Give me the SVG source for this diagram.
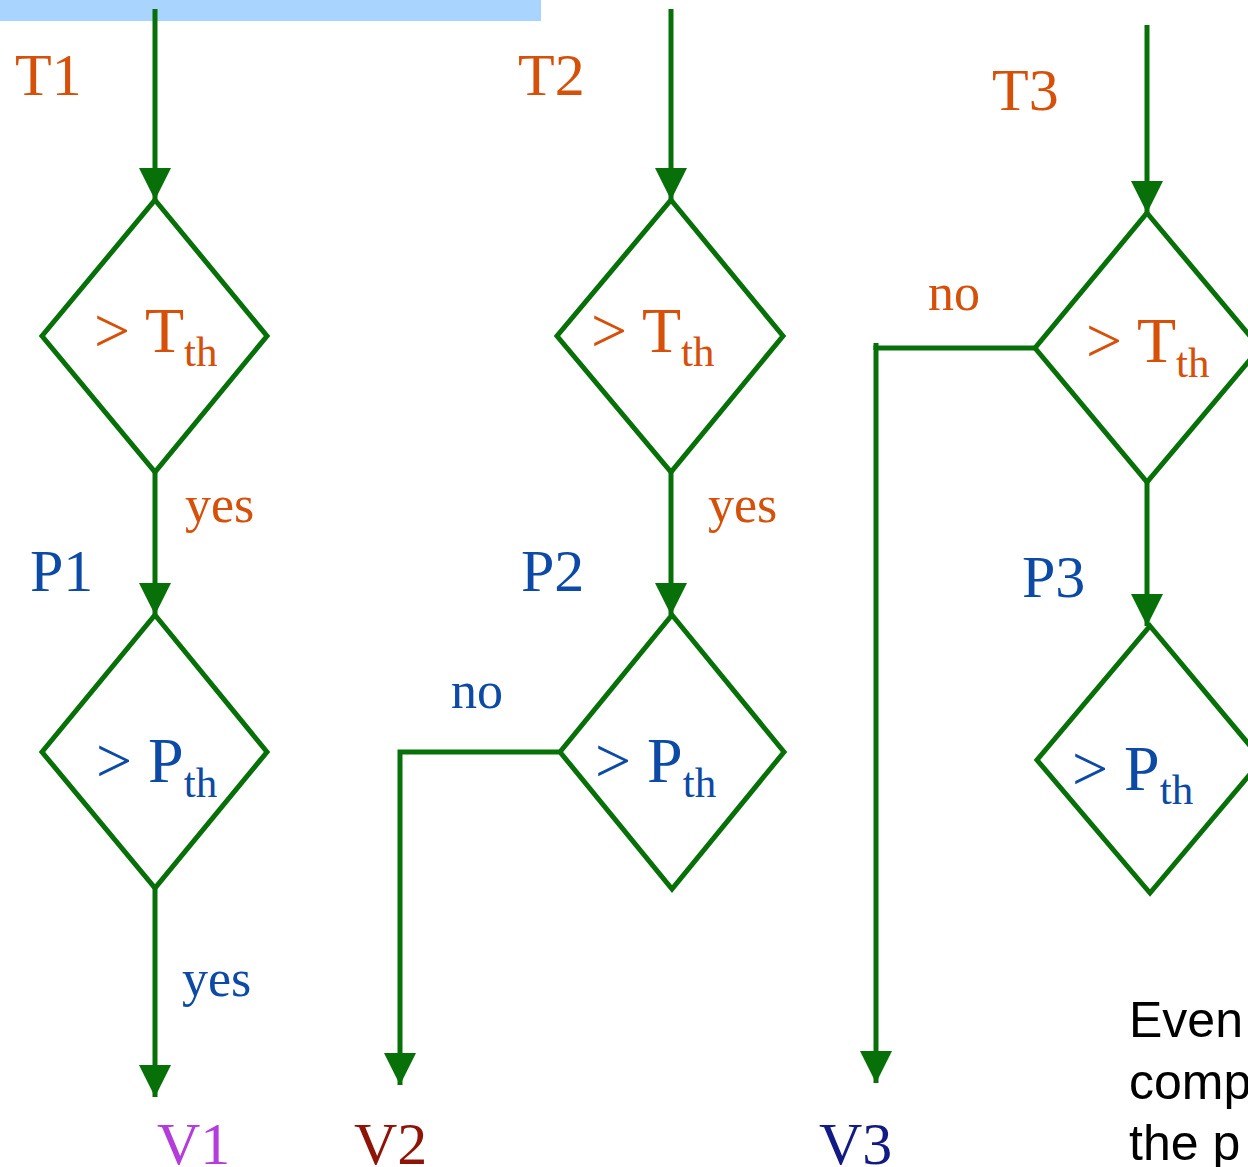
<svg xmlns="http://www.w3.org/2000/svg" width="1248" height="1167" viewBox="0 0 1248 1167">
<defs>
<marker id="ah" markerUnits="userSpaceOnUse" markerWidth="32" markerHeight="32" refX="30" refY="15" orient="auto" viewBox="0 0 30 30">
<path d="M0,0 L30,15 L0,30 z" fill="#087008"/>
</marker>
<style>
.d{fill:#fff;stroke:#087008;stroke-width:5;stroke-linejoin:miter}
.c{fill:none;stroke:#087008;stroke-width:5}
.t{font-family:"Liberation Serif","Times New Roman",serif;font-size:60px}
.m{font-size:64px}
.o{fill:#d65009}
.b{fill:#0c4aa6}
.s{font-size:43px}
.y{font-size:52px}
</style>
</defs>
<rect x="0" y="0" width="541" height="21" fill="#a8d4fe"/>
<g id="connectors">
<path class="c" d="M155,9 V200" marker-end="url(#ah)"/>
<path class="c" d="M155,472 V615" marker-end="url(#ah)"/>
<path class="c" d="M155,888 V1097" marker-end="url(#ah)"/>
<path class="c" d="M671,9 V200" marker-end="url(#ah)"/>
<path class="c" d="M671,472 V615" marker-end="url(#ah)"/>
<path class="c" d="M560,752 H400 V1085" marker-end="url(#ah)"/>
<path class="c" d="M1147,25 V213" marker-end="url(#ah)"/>
<path class="c" d="M1147,482 V626" marker-end="url(#ah)"/>
<path class="c" d="M1035,348 H876 V1083" marker-end="url(#ah)"/>
<path class="c" d="M876,343 V350"/>
</g>
<g id="d1"><polygon class="d" points="155,200 267,336 155,472 42,336"/>
<text class="t m o" x="94" y="352">&gt; T<tspan class="s" dy="14">th</tspan></text></g>
<g id="d2"><polygon class="d" points="155,615 267,752 155,888 42,752"/>
<text class="t m b" x="96" y="782">&gt; P<tspan class="s" dy="15">th</tspan></text></g>
<g id="d3"><polygon class="d" points="671,200 783,336 671,472 557,336"/>
<text class="t m o" x="591" y="352">&gt; T<tspan class="s" dy="14">th</tspan></text></g>
<g id="d4"><polygon class="d" points="672,615 784,752 672,889 560,752"/>
<text class="t m b" x="595" y="782">&gt; P<tspan class="s" dy="15">th</tspan></text></g>
<g id="d5"><polygon class="d" points="1147,213 1260,348 1147,482 1035,348"/>
<text class="t m o" x="1086" y="362">&gt; T<tspan class="s" dy="15">th</tspan></text></g>
<g id="d6"><polygon class="d" points="1150,626 1262,760 1150,893 1037,760"/>
<text class="t m b" x="1072" y="790">&gt; P<tspan class="s" dy="14">th</tspan></text></g>
<g id="labels">
<text class="t o" x="15" y="95">T1</text>
<text class="t o" x="518" y="95">T2</text>
<text class="t o" x="992" y="110">T3</text>
<text class="t b" x="30" y="591">P1</text>
<text class="t b" x="521" y="591">P2</text>
<text class="t b" x="1022" y="597">P3</text>
<text class="t o y" x="185" y="522">yes</text>
<text class="t o y" x="708" y="522">yes</text>
<text class="t b y" x="182" y="996">yes</text>
<text class="t b y" x="451" y="708">no</text>
<text class="t o y" x="928" y="310">no</text>
<text class="t" x="157" y="1164" fill="#b43cdc">V1</text>
<text class="t" x="354" y="1164" fill="#8e1408">V2</text>
<text class="t" x="819" y="1164" fill="#121a84">V3</text>
</g>
<g id="note" font-family="'Liberation Sans',Arial,sans-serif" font-size="50" fill="#000">
<text x="1129" y="1037">Even</text>
<text x="1129" y="1099">comp</text>
<text x="1129" y="1160">the p</text>
</g>
</svg>
